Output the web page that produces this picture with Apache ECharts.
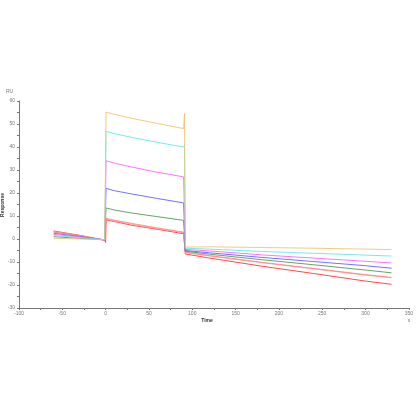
<!DOCTYPE html>
<html>
<head>
<meta charset="utf-8">
<script src="https://cdn.jsdelivr.net/npm/echarts@6/dist/echarts.min.js"></script>
<style>html,body{margin:0;padding:0;background:#fff}#c{width:416px;height:416px}</style>
</head>
<body>
<div id="c"></div>
<script>
var times = [-60, -30, -1, 0, 0.5, 10, 30, 60, 90, 91, 92, 120, 180, 240, 300, 330];
var s1 = [0.3, 0.0, -0.3, -1.0, 55.2, 54.2, 52.5, 50.2, 48.0, 54.6, -3.5, -3.4, -3.7, -4.0, -4.4, -4.6];
var s2 = [1.5, 0.6, -0.3, -1.0, 46.8, 45.8, 44.2, 42.0, 40.0, 41.0, -4.0, -4.4, -5.4, -6.2, -7.0, -7.4];
var s3 = [2.0, 0.9, -0.4, -1.1, 34.0, 33.0, 31.3, 29.0, 27.0, 27.5, -4.5, -5.2, -6.9, -8.3, -9.7, -10.4];
var s4 = [2.5, 1.1, -0.4, -1.2, 22.0, 21.0, 19.6, 17.6, 15.7, 16.0, -5.0, -6.0, -8.0, -9.8, -11.6, -12.7];
var s5 = [1.0, 0.3, -0.4, -1.2, 13.5, 12.6, 11.3, 9.7, 8.1, 8.5, -5.3, -6.6, -9.0, -11.2, -13.5, -14.7];
var s6 = [3.0, 1.4, -0.5, -1.3, 9.0, 8.2, 6.8, 4.8, 3.0, 3.2, -5.7, -7.2, -10.1, -12.8, -15.5, -16.7];
var s7 = [3.2, 1.5, -0.5, -1.3, 8.6, 7.9, 6.4, 4.5, 2.7, 2.9, -5.9, -7.4, -10.3, -13.0, -15.7, -16.9];
var s8 = [3.5, 1.6, -0.5, -1.5, 8.3, 7.6, 6.0, 4.2, 2.3, 2.5, -6.5, -8.3, -11.8, -15.0, -18.3, -19.7];
var seriesValues = [s1, s2, s3, s4, s5, s6, s7, s8];
var colors = ['#eec36a', '#5fe6e6', '#ff5cff', '#5a5aff', '#4a944a', '#ff8080', '#ff9a9a', '#ff2a2a'];
var xTicks = {min: -100, max: 350, interval: 50};
var yTicks = {min: -30, max: 60, interval: 10};

var chart = echarts.init(document.getElementById('c'));
var lab = {fontSize: 5, color: '#777', fontFamily: 'Liberation Sans'};
chart.setOption({
  animation: false,
  grid: {left: 19, right: 7, top: 101, bottom: 108},
  xAxis: {
    type: 'value', min: xTicks.min, max: xTicks.max, interval: xTicks.interval,
    axisLine: {onZero: false, lineStyle: {color: '#777', width: 1}},
    axisTick: {show: true, length: 2, lineStyle: {color: '#777'}},
    minorTick: {show: true, splitNumber: 2, length: 2, lineStyle: {color: '#777'}},
    splitLine: {show: false},
    axisLabel: Object.assign({margin: 3}, lab)
  },
  yAxis: {
    type: 'value', min: yTicks.min, max: yTicks.max, interval: yTicks.interval,
    axisLine: {show: true, onZero: false, lineStyle: {color: '#777', width: 1}},
    axisTick: {show: true, length: 2, lineStyle: {color: '#777'}},
    minorTick: {show: true, splitNumber: 2, length: 2, lineStyle: {color: '#777'}},
    splitLine: {show: false},
    axisLabel: Object.assign({margin: 4}, lab)
  },
  graphic: [
    {type: 'text', left: 6, top: 89, style: {text: 'RU', fontSize: 5, fill: '#777', fontFamily: 'Liberation Sans'}},
    {type: 'text', x: 3, y: 205, rotation: Math.PI / 2, style: {text: 'Response', fontSize: 5, fontWeight: 'bold', fill: '#333', align: 'center', verticalAlign: 'middle', fontFamily: 'Liberation Sans'}},
    {type: 'text', x: 207, y: 321, style: {text: 'Time', fontSize: 5, fontWeight: 'bold', fill: '#333', align: 'center', verticalAlign: 'middle', fontFamily: 'Liberation Sans'}},
    {type: 'text', x: 409, y: 321, style: {text: 's', fontSize: 5, fill: '#777', align: 'center', verticalAlign: 'middle', fontFamily: 'Liberation Sans'}}
  ],
  series: seriesValues.map(function (vals, i) {
    return {
      type: 'line', showSymbol: false, symbol: 'none',
      lineStyle: {width: 1, color: colors[i], opacity: 0.85},
      data: times.map(function (t, j) { return [t, vals[j]]; })
    };
  }).reverse()
});
</script>
</body>
</html>
